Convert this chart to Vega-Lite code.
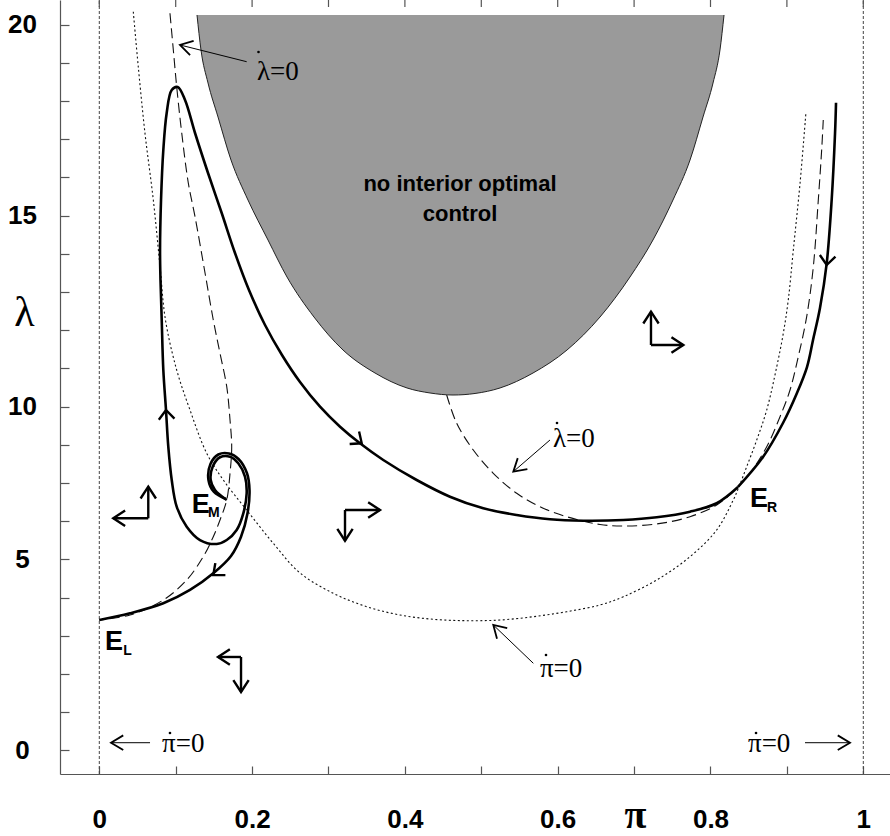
{
 "$schema": "https://vega.github.io/schema/vega-lite/v6.json",
 "width": 830, "height": 774,
 "autosize": {"type": "none"},
 "padding": {"left": 60, "top": 0, "right": 0, "bottom": 62},
 "background": "white",
 "config": {"view": {"stroke": null}},
 "datasets": {
  "gray": [{"p":0.1279,"l":20.254},{"p":0.1331,"l":19.338},{"p":0.1423,"l":18.474},{"p":0.1554,"l":17.584},{"p":0.1724,"l":16.458},{"p":0.1946,"l":15.411},{"p":0.2208,"l":14.364},{"p":0.2457,"l":13.395},{"p":0.281,"l":12.348},{"p":0.319,"l":11.484},{"p":0.3609,"l":10.882},{"p":0.4028,"l":10.49},{"p":0.4329,"l":10.359},{"p":0.463,"l":10.306},{"p":0.4918,"l":10.346},{"p":0.5245,"l":10.49},{"p":0.5677,"l":10.882},{"p":0.6122,"l":11.484},{"p":0.6554,"l":12.348},{"p":0.6946,"l":13.395},{"p":0.7247,"l":14.364},{"p":0.7509,"l":15.411},{"p":0.7732,"l":16.458},{"p":0.7902,"l":17.584},{"p":0.8033,"l":18.474},{"p":0.8124,"l":19.338},{"p":0.8177,"l":20.254}],
  "vlines": [{"p":0,"l":0.3848,"l2":20.6466},{"p":1,"l":0.3848,"l2":20.6466}],
  "topticks": [{"p":0,"l":20.555},{"p":0.1,"l":20.555},{"p":0.2,"l":20.555},{"p":0.3,"l":20.555},{"p":0.4,"l":20.555},{"p":0.5,"l":20.555},{"p":0.6,"l":20.555},{"p":0.7,"l":20.555},{"p":0.8,"l":20.555},{"p":0.9,"l":20.555},{"p":1,"l":20.555}],
  "dotted": [{"p":0.0445,"l":20.34},{"p":0.051,"l":18.9},{"p":0.0598,"l":17.157},{"p":0.0707,"l":15.411},{"p":0.0795,"l":13.665},{"p":0.0866,"l":12.27},{"p":0.1013,"l":10.961},{"p":0.1187,"l":9.914},{"p":0.1406,"l":8.78},{"p":0.1623,"l":8.081},{"p":0.1929,"l":7.296},{"p":0.2277,"l":6.424},{"p":0.2627,"l":5.647},{"p":0.3063,"l":5.115},{"p":0.35,"l":4.765},{"p":0.3936,"l":4.547},{"p":0.4372,"l":4.435},{"p":0.4809,"l":4.398},{"p":0.5245,"l":4.416},{"p":0.5681,"l":4.503},{"p":0.6118,"l":4.634},{"p":0.6554,"l":4.809},{"p":0.6859,"l":5.026},{"p":0.7296,"l":5.464},{"p":0.7732,"l":6.074},{"p":0.8081,"l":6.773},{"p":0.8298,"l":7.558},{"p":0.8373,"l":7.906},{"p":0.8474,"l":8.43},{"p":0.8605,"l":9.128},{"p":0.8736,"l":9.914},{"p":0.8867,"l":11.047},{"p":0.8953,"l":11.921},{"p":0.9018,"l":12.793},{"p":0.9084,"l":14.102},{"p":0.9172,"l":15.848},{"p":0.925,"l":17.722}],
  "dashed": [
   {"s":"L","p":0.0925,"l":20.298},{"s":"L","p":0.0969,"l":19.338},{"s":"L","p":0.1013,"l":18.377},{"s":"L","p":0.1079,"l":17.165},{"s":"L","p":0.1165,"l":15.856},{"s":"L","p":0.1253,"l":14.974},{"s":"L","p":0.1384,"l":13.5},{"s":"L","p":0.1492,"l":12.27},{"s":"L","p":0.158,"l":11.398},{"s":"L","p":0.1668,"l":10.524},{"s":"L","p":0.1711,"l":9.652},{"s":"L","p":0.1733,"l":8.953},{"s":"L","p":0.1711,"l":8.257},{"s":"L","p":0.1668,"l":7.558},{"s":"L","p":0.158,"l":7.034},{"s":"L","p":0.1492,"l":6.597},{"s":"L","p":0.1361,"l":6.074},{"s":"L","p":0.1144,"l":5.464},{"s":"L","p":0.0838,"l":4.94},{"s":"L","p":0.0402,"l":4.547},{"s":"L","p":0.0,"l":4.416},
   {"s":"R","p":0.4547,"l":10.306},{"s":"R","p":0.4678,"l":9.566},{"s":"R","p":0.4895,"l":8.867},{"s":"R","p":0.5157,"l":8.257},{"s":"R","p":0.5463,"l":7.733},{"s":"R","p":0.5768,"l":7.382},{"s":"R","p":0.6118,"l":7.12},{"s":"R","p":0.6554,"l":6.916},{"s":"R","p":0.6859,"l":6.877},{"s":"R","p":0.7296,"l":6.93},{"s":"R","p":0.7732,"l":7.12},{"s":"R","p":0.8081,"l":7.427},{"s":"R","p":0.8298,"l":7.775},{"s":"R","p":0.836,"l":7.898},{"s":"R","p":0.8517,"l":8.257},{"s":"R","p":0.8736,"l":8.953},{"s":"R","p":0.891,"l":9.738},{"s":"R","p":0.9041,"l":10.437},{"s":"R","p":0.9149,"l":11.309},{"s":"R","p":0.9259,"l":12.356},{"s":"R","p":0.9346,"l":13.665},{"s":"R","p":0.9411,"l":15.411},{"s":"R","p":0.9455,"l":16.72},{"s":"R","p":0.9476,"l":17.505}],
  "thick": [
   {"s":"A","p":0.1668,"l":7.558},{"s":"A","p":0.1514,"l":7.819},{"s":"A","p":0.1458,"l":8.081},{"s":"A","p":0.1484,"l":8.43},{"s":"A","p":0.158,"l":8.676},{"s":"A","p":0.1711,"l":8.691},{"s":"A","p":0.1819,"l":8.519},{"s":"A","p":0.1907,"l":8.168},{"s":"A","p":0.1929,"l":7.733},{"s":"A","p":0.1885,"l":7.209},{"s":"A","p":0.1798,"l":6.773},{"s":"A","p":0.1668,"l":6.51},{"s":"A","p":0.1537,"l":6.406},{"s":"A","p":0.1318,"l":6.51},{"s":"A","p":0.1144,"l":6.859},{"s":"A","p":0.1013,"l":7.382},{"s":"A","p":0.0948,"l":8.081},{"s":"A","p":0.0903,"l":8.953},{"s":"A","p":0.0873,"l":9.914},{"s":"A","p":0.0838,"l":10.961},{"s":"A","p":0.0817,"l":12.27},{"s":"A","p":0.0801,"l":13.317},{"s":"A","p":0.0795,"l":14.102},{"s":"A","p":0.0808,"l":15.411},{"s":"A","p":0.0838,"l":16.72},{"s":"A","p":0.0882,"l":17.689},{"s":"A","p":0.0948,"l":18.291},{"s":"A","p":0.1026,"l":18.369},{"s":"A","p":0.1122,"l":18.029},{"s":"A","p":0.1253,"l":17.165},{"s":"A","p":0.1423,"l":16.118},{"s":"A","p":0.1602,"l":15.071},{"s":"A","p":0.1776,"l":14.024},{"s":"A","p":0.1959,"l":13.055},{"s":"A","p":0.2169,"l":12.139},{"s":"A","p":0.2391,"l":11.354},{"s":"A","p":0.2627,"l":10.647},{"s":"A","p":0.2889,"l":10.0},{"s":"A","p":0.3151,"l":9.476},{"s":"A","p":0.3412,"l":9.042},{"s":"A","p":0.3717,"l":8.605},{"s":"A","p":0.4154,"l":8.081},{"s":"A","p":0.459,"l":7.644},{"s":"A","p":0.5026,"l":7.34},{"s":"A","p":0.5463,"l":7.165},{"s":"A","p":0.5899,"l":7.052},{"s":"A","p":0.6335,"l":7.016},{"s":"A","p":0.6859,"l":7.034},{"s":"A","p":0.7296,"l":7.105},{"s":"A","p":0.7732,"l":7.252},{"s":"A","p":0.8081,"l":7.472},{"s":"A","p":0.836,"l":7.898},
   {"s":"C","p":0.836,"l":7.898},{"s":"C","p":0.8687,"l":8.683},{"s":"C","p":0.8949,"l":9.573},{"s":"C","p":0.9132,"l":10.359},{"s":"C","p":0.9263,"l":11.039},{"s":"C","p":0.9342,"l":11.746},{"s":"C","p":0.9433,"l":12.584},{"s":"C","p":0.9521,"l":13.754},{"s":"C","p":0.9586,"l":15.411},{"s":"C","p":0.963,"l":17.157},{"s":"C","p":0.9643,"l":17.958},
   {"s":"B","p":0.1658,"l":7.584},{"s":"B","p":0.1501,"l":7.767},{"s":"B","p":0.1429,"l":8.081},{"s":"B","p":0.1455,"l":8.5},{"s":"B","p":0.1558,"l":8.749},{"s":"B","p":0.1698,"l":8.775},{"s":"B","p":0.1822,"l":8.631},{"s":"B","p":0.1933,"l":8.257},{"s":"B","p":0.1966,"l":7.819},{"s":"B","p":0.194,"l":7.209},{"s":"B","p":0.1855,"l":6.597},{"s":"B","p":0.1724,"l":6.092},{"s":"B","p":0.1492,"l":5.639},{"s":"B","p":0.1187,"l":5.202},{"s":"B","p":0.0838,"l":4.853},{"s":"B","p":0.0402,"l":4.592},{"s":"B","p":0.0,"l":4.416}],
  "segs": [
   {"k":"phase","p":0.0641,"l":7.079,"p2":0.0183,"l2":7.079},{"k":"phase","p":0.0641,"l":7.079,"p2":0.0641,"l2":7.906},
   {"k":"phase","p":0.3216,"l":7.296,"p2":0.3674,"l2":7.296},{"k":"phase","p":0.3216,"l":7.296,"p2":0.3216,"l2":6.492},
   {"k":"phase","p":0.7221,"l":11.615,"p2":0.7644,"l2":11.615},{"k":"phase","p":0.7221,"l":11.615,"p2":0.7221,"l2":12.487},
   {"k":"phase","p":0.1855,"l":3.448,"p2":0.1554,"l2":3.448},{"k":"phase","p":0.1855,"l":3.448,"p2":0.1855,"l2":2.532},
   {"k":"note","p":0.1929,"l":19.031,"p2":0.1056,"l2":19.469},
   {"k":"note","p":0.5899,"l":9.128,"p2":0.5419,"l2":8.299},
   {"k":"note","p":0.5681,"l":3.283,"p2":0.5157,"l2":4.286},
   {"k":"note","p":0.0664,"l":1.204,"p2":0.0153,"l2":1.204},
   {"k":"note","p":0.9237,"l":1.204,"p2":0.9826,"l2":1.204}],
  "heads": [
   {"k":"flow","p":0.0873,"l":9.914,"a":266},{"k":"flow","p":0.3435,"l":9.042,"a":37},{"k":"flow","p":0.1492,"l":5.594,"a":140},{"k":"flow","p":0.9521,"l":13.709,"a":96},
   {"k":"phase","p":0.0183,"l":7.079,"a":180},{"k":"phase","p":0.0641,"l":7.906,"a":270},{"k":"phase","p":0.3674,"l":7.296,"a":0},{"k":"phase","p":0.3216,"l":6.492,"a":90},{"k":"phase","p":0.7644,"l":11.615,"a":0},{"k":"phase","p":0.7221,"l":12.487,"a":270},{"k":"phase","p":0.1554,"l":3.448,"a":180},{"k":"phase","p":0.1855,"l":2.532,"a":90},
   {"k":"note","p":0.1056,"l":19.469,"a":194},{"k":"note","p":0.5419,"l":8.299,"a":139},{"k":"note","p":0.5157,"l":4.286,"a":224},{"k":"note","p":0.0153,"l":1.204,"a":180},{"k":"note","p":0.9826,"l":1.204,"a":0}],
  "notes": [
   {"t":"λ=0","p":0.2064,"l":18.552},{"t":"λ=0","p":0.5938,"l":8.945},{"t":"π=0","p":0.5768,"l":2.924},{"t":"π=0","p":0.0821,"l":0.961},{"t":"π=0","p":0.8491,"l":0.961}],
  "dots": [{"p":0.2084,"l":19.285},{"p":0.5991,"l":9.573},{"p":0.5847,"l":3.5},{"p":0.0925,"l":1.459},{"p":0.8596,"l":1.459}],
  "eq": [{"t":"E","p":0.0076,"l":3.631},{"t":"E","p":0.1209,"l":7.217},{"t":"E","p":0.8517,"l":7.374}],
  "sub": [{"t":"L","p":0.0314,"l":3.5},{"t":"M","p":0.1423,"l":7.113},{"t":"R","p":0.874,"l":7.243}],
  "region": [{"t":"no interior optimal","p":0.4721,"l":15.83},{"t":"control","p":0.4721,"l":15.045}]
 },
 "encoding": {
  "x": {"field": "p", "type": "quantitative", "scale": {"domain": [-0.05144, 1.03495], "nice": false, "zero": false},
   "axis": {"orient": "bottom", "values": [0,0.1,0.2,0.3,0.4,0.5,0.6,0.7,0.8,0.9,1],
    "labelExpr": "round(datum.value*10)%2==0 ? format(datum.value,'.1~f') : ''",
    "ticks": true, "tickSize": -8, "tickColor": "#555", "tickWidth": 1.2, "domainColor": "#555", "domainWidth": 1.2,
    "labelFont": "Liberation Sans", "labelFontWeight": "bold", "labelFontSize": 26, "labelColor": "black",
    "labelPadding": 53, "labelBaseline": "middle", "labelAlign": "center", "labelFlush": false, "labelOverlap": false, "grid": false,
    "title": "π", "titleFont": "Liberation Serif", "titleFontSize": 40, "titleFontWeight": "bold", "titleColor": "black",
    "titleX": 575, "titleY": 53, "titleBaseline": "alphabetic", "titleAlign": "center", "titleAngle": 0}},
  "y": {"field": "l", "type": "quantitative", "scale": {"domain": [0.3848, 20.6466], "nice": false, "zero": false},
   "axis": {"orient": "left", "values": [1,2,3,4,5,6,7,8,9,10,11,12,13,14,15,16,17,18,19,20],
    "labelExpr": "datum.value==20?'20':datum.value==15?'15':datum.value==10?'10':datum.value==6?'5':datum.value==1?'0':''",
    "ticks": true, "tickSize": -9, "tickColor": "#555", "tickWidth": 1.2, "domainColor": "#555", "domainWidth": 1.2,
    "labelFont": "Liberation Sans", "labelFontWeight": "bold", "labelFontSize": 26, "labelColor": "black",
    "labelPadding": 47, "labelBaseline": "middle", "labelAlign": "center", "labelFlush": false, "labelOverlap": false, "grid": false,
    "title": "λ", "titleFont": "Liberation Serif", "titleFontSize": 42, "titleFontWeight": "normal", "titleColor": "black",
    "titleX": -36, "titleY": 325, "titleBaseline": "alphabetic", "titleAlign": "center", "titleAngle": 0}}
 },
 "layer": [
  {"data": {"name": "gray"},
   "mark": {"type": "area", "color": "#9a9a9a", "interpolate": "monotone"},
   "encoding": {"y2": {"datum": 20.254}}},
  {"data": {"name": "gray"},
   "mark": {"type": "line", "color": "#222", "strokeWidth": 1, "interpolate": "monotone"}},
  {"data": {"name": "vlines"},
   "mark": {"type": "rule", "color": "#444", "strokeWidth": 1, "strokeDash": [3, 2]},
   "encoding": {"y2": {"field": "l2"}}},
  {"data": {"name": "topticks"},
   "mark": {"type": "tick", "orient": "vertical", "size": 7, "thickness": 1.2, "color": "#555", "opacity": 1}},
  {"data": {"name": "dotted"},
   "mark": {"type": "line", "color": "#111", "strokeWidth": 1.1, "strokeDash": [2, 2.5], "interpolate": "catmull-rom", "order": false}},
  {"data": {"name": "dashed"},
   "mark": {"type": "line", "color": "#111", "strokeWidth": 1.1, "strokeDash": [10, 5], "interpolate": "catmull-rom", "order": false},
   "encoding": {"detail": {"field": "s"}}},
  {"data": {"name": "thick"},
   "mark": {"type": "line", "color": "black", "strokeWidth": 2.6, "interpolate": "catmull-rom", "order": false, "strokeJoin": "round"},
   "encoding": {"detail": {"field": "s"}}},
  {"data": {"name": "segs"}, "transform": [{"filter": "datum.k=='phase'"}],
   "mark": {"type": "rule", "color": "black", "strokeWidth": 2.4},
   "encoding": {"x2": {"field": "p2"}, "y2": {"field": "l2"}}},
  {"data": {"name": "segs"}, "transform": [{"filter": "datum.k=='note'"}],
   "mark": {"type": "rule", "color": "black", "strokeWidth": 1},
   "encoding": {"x2": {"field": "p2"}, "y2": {"field": "l2"}}},
  {"data": {"name": "heads"}, "transform": [{"filter": "datum.k=='flow'"}],
   "mark": {"type": "point", "shape": "M-1,-0.85L0,0L-1,0.85", "filled": false, "size": 340, "strokeWidth": 2.4, "color": "black", "opacity": 1},
   "encoding": {"angle": {"field": "a", "type": "quantitative", "scale": null}}},
  {"data": {"name": "heads"}, "transform": [{"filter": "datum.k=='phase'"}],
   "mark": {"type": "point", "shape": "M-1,-0.65L0,0L-1,0.65", "filled": false, "size": 560, "strokeWidth": 2.4, "color": "black", "opacity": 1},
   "encoding": {"angle": {"field": "a", "type": "quantitative", "scale": null}}},
  {"data": {"name": "heads"}, "transform": [{"filter": "datum.k=='note'"}],
   "mark": {"type": "point", "shape": "M-1,-0.6L0,0L-1,0.6", "filled": false, "size": 600, "strokeWidth": 1.8, "color": "black", "opacity": 1},
   "encoding": {"angle": {"field": "a", "type": "quantitative", "scale": null}}},
  {"data": {"name": "notes"},
   "mark": {"type": "text", "font": "Liberation Serif", "fontSize": 27, "align": "left", "baseline": "alphabetic", "color": "black"},
   "encoding": {"text": {"field": "t"}}},
  {"data": {"name": "dots"},
   "mark": {"type": "point", "shape": "circle", "filled": true, "size": 7, "color": "black", "opacity": 1}},
  {"data": {"name": "eq"},
   "mark": {"type": "text", "font": "Liberation Sans", "fontWeight": "bold", "fontSize": 27, "align": "left", "baseline": "alphabetic", "color": "black"},
   "encoding": {"text": {"field": "t"}}},
  {"data": {"name": "sub"},
   "mark": {"type": "text", "font": "Liberation Sans", "fontWeight": "bold", "fontSize": 14, "align": "left", "baseline": "alphabetic", "color": "black"},
   "encoding": {"text": {"field": "t"}}},
  {"data": {"name": "region"},
   "mark": {"type": "text", "font": "Liberation Sans", "fontWeight": "bold", "fontSize": 22, "align": "center", "baseline": "middle", "color": "black"},
   "encoding": {"text": {"field": "t"}}}
 ]
}
